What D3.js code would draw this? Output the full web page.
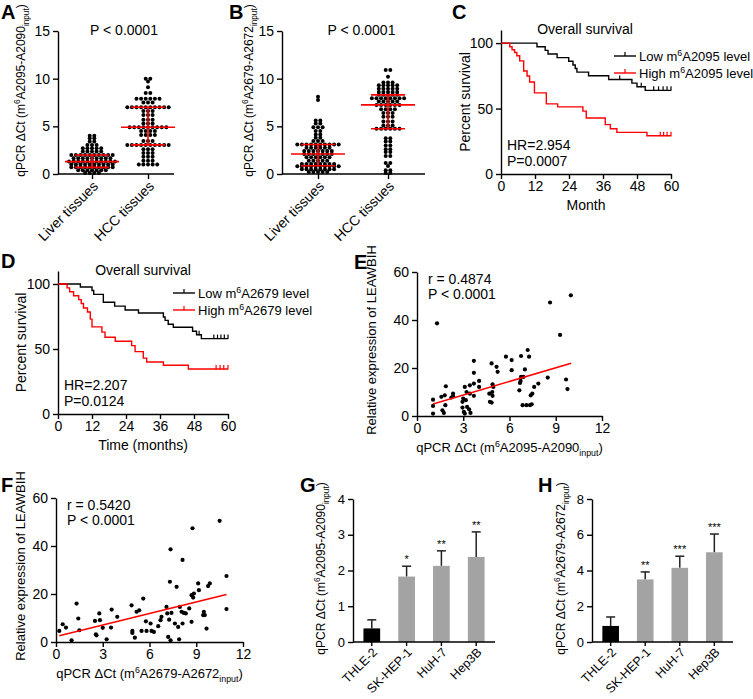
<!DOCTYPE html>
<html><head><meta charset="utf-8">
<script src="https://cdn.jsdelivr.net/npm/d3@7"></script>
<style>body{margin:0;background:#fff}</style>
</head><body><script>
// ================= DATA =================
const scatterCats = ["Liver tissues", "HCC tissues"];
const aLiver = [4.0,4.0,3.75,3.75,3.4,3.4,3.05,3.05,3.05,2.7,2.7,2.7,2.7,2.7,2.35,2.35,2.35,2.35,2.35,
  2.0,2.0,2.0,2.0,2.0,2.0,2.0,2.0,2.0,2.0,1.65,1.65,1.65,1.65,1.65,1.65,1.65,1.65,1.65,
  1.3,1.3,1.3,1.3,1.3,1.3,1.3,1.3,1.3,1.3,1.3,1.0,1.0,1.0,1.0,1.0,1.0,1.0,1.0,1.0,1.0,
  0.7,0.7,0.7,0.7,0.7,0.7,0.7,0.7,0.7,0.7,0.4,0.4,0.4,0.4,0.4,0.4,0.4,0.1,0.1,0.1,0.1];
const aHCC = [10.0,10.0,9.7,9.1,8.5,8.5,7.9,7.9,7.9,7.9,7.9,7.9,7.5,7.5,7.5,
  7.0,7.0,7.0,7.0,7.0,7.0,7.0,7.0,7.0,7.0,6.6,6.6,6.6,6.2,6.2,6.2,5.7,5.7,5.7,5.3,5.3,5.3,
  4.9,4.9,4.9,4.9,4.9,4.9,4.9,4.9,4.9,4.5,4.5,4.5,4.5,4.1,4.1,4.1,4.1,3.45,3.45,3.45,
  3.05,3.05,3.05,3.05,3.05,3.05,3.05,3.05,3.05,3.05,2.6,2.6,2.6,2.2,2.2,2.2,1.8,1.8,1.8,
  1.4,1.4,1.4,1.0,1.0,1.0,1.0,1.0];
const bLiver = [8.1,7.75,5.6,5.6,5.3,5.3,4.9,4.9,4.9,4.5,4.5,4.15,4.15,3.8,3.8,3.45,3.45,3.45,
  3.1,3.1,3.1,3.1,3.1,3.1,3.1,3.1,3.1,3.1,2.75,2.75,2.75,2.75,2.75,2.75,
  2.4,2.4,2.4,2.4,2.4,2.4,2.4,2.1,2.1,2.1,2.1,2.1,2.1,2.1,1.75,1.75,1.75,1.75,1.75,1.75,
  1.4,1.4,1.4,1.4,1.4,1.05,1.05,1.05,1.05,1.05,1.05,1.05,1.05,
  0.8,0.8,0.8,0.8,0.8,0.8,0.8,0.8,0.8,0.8,0.5,0.5,0.5,0.5,0.5,0.5,0.5,0.5,0.2,0.2,0.2,0.2,0.2];
const bHCC = [10.9,10.9,10.2,9.6,9.6,9.6,9.3,9.3,9.3,9.3,9.3,8.95,8.95,8.95,8.95,8.95,
  8.6,8.6,8.6,8.6,8.6,8.3,8.3,8.3,8.3,8.3,7.95,7.95,7.95,7.95,7.95,7.95,7.95,7.95,
  7.6,7.6,7.6,7.6,7.6,7.25,7.25,7.25,7.25,7.25,7.25,6.8,6.8,6.8,6.8,6.4,6.4,6.4,6.0,6.0,6.0,
  5.5,5.5,5.5,5.1,5.1,5.1,4.75,4.75,4.75,4.75,4.75,4.75,3.75,3.75,3.4,3.4,3.0,3.0,2.6,2.6,
  2.3,2.3,1.9,1.9,1.15,1.15,0.85,0.4,0.4,0.1,0.1];
const dotYTicks = [0,5,10,15];
const dotPText = "P < 0.0001";

const monthTicks = [0,12,24,36,48,60];
const survTicks = [0,50,100];
const cLowTime = [0,12.7,15.6,16.6,19.8,23.9,25.4,26.2,26.8,30.9,38.0,46.2,48.0,50.9];
const cLowSurv = [100,97.2,94.4,91.7,88.9,86.1,83.3,80.6,77.8,75.0,72.2,69.4,66.7,63.9];
const cLowCensor = [41.9,49.5,53.9,55.6,57.2,58.6,60];
const cHighTime = [0,3.1,3.9,4.8,5.6,6.6,8.0,9.2,10.1,11.8,16.0,20.0,28.9,30.1,36.8,38.6,40.9,51.5];
const cHighSurv = [100,97.2,94.9,92.8,90.3,86.4,78.7,74.9,70.3,62.0,53.6,51.3,48.0,42.8,37.7,34.6,31.8,29.2];
const cHighCensor = [56.2,57.4,58.6,60];
const dLowTime = [0,7.9,12.0,12.6,16.0,20.0,23.7,28.4,37.2,37.8,38.9,40.7,47.5,48.9,50.6];
const dLowSurv = [100,97.7,95.0,92.0,86.0,83.0,80.0,77.7,74.6,72.0,69.0,66.7,63.6,61.0,58.0];
const dLowCensor = [49.8,55.0,56.3,57.5,58.7,60];
const dHighTime = [0,3.2,4.1,5.5,7.3,8.2,9.0,10.4,11.4,12.0,15.5,16.6,20.2,26.0,27.2,30.1,31.3,37.2,46.0];
const dHighSurv = [100,97.0,94.0,91.0,88.0,85.0,81.5,78.5,73.0,67.0,63.0,59.0,56.0,52.6,48.0,43.0,40.0,37.5,34.6];
const dHighCensor = [55.8,57.2,58.5,60];
const cStats = ["HR=2.954","P=0.0007"];
const dStats = ["HR=2.207","P=0.0124"];

const eX = [1.3,8.63,9.98,9.28,9.67,9.76,8.48,7.87,7.6,7.48,7.38,7.44,7.33,6.9,7.0,7.18,7.27,6.75,6.75,6.72,
  6.68,6.64,7.1,6.85,6.14,6.14,5.77,5.16,5.23,4.84,4.9,4.95,4.88,4.69,4.9,4.84,4.73,3.69,3.69,3.69,
  4.03,4.03,3.69,3.43,3.43,3.21,3.1,3.17,3.25,3.38,3.47,3.04,3.1,2.95,2.95,3.0,2.34,2.34,2.23,1.87,
  1.8,1.84,1.58,1.65,1.74,1.04,1.04,1.04];
const eY = [38.6,47.3,50.3,33.8,15.2,11.2,16.0,13.5,12.1,9.3,8.6,4.9,4.5,16.3,19.4,27.5,24.7,25.0,16.3,14.6,
  13.8,10.7,4.5,4.5,19.1,23.3,24.7,20.5,18.4,21.9,13.2,12.1,10.0,9.3,8.4,5.6,5.9,23.0,18.0,13.5,
  14.6,12.1,8.4,12.8,9.3,10.0,12.1,6.6,3.8,2.8,1.3,1.7,1.0,5.9,3.5,7.3,9.3,8.2,7.7,12.4,
  8.6,4.5,8.0,2.4,1.3,6.8,4.2,1.0];
const eFit = [[1.04,5.0],[10.0,22.0]];
const eStats = ["r = 0.4874","P < 0.0001"];
const fX = [0.21,0.43,0.64,1.0,1.32,1.43,1.5,2.5,2.56,2.6,2.78,2.82,3.0,3.25,3.57,3.53,3.93,4.85,4.9,4.9,
  5.06,5.17,5.34,5.49,5.6,5.77,5.81,6.07,6.13,6.28,6.56,6.71,6.77,7.09,7.14,7.2,7.31,7.35,7.35,7.26,
  7.41,7.63,7.74,7.84,7.9,7.95,8.06,8.12,8.12,8.2,8.33,8.55,8.7,8.7,8.76,8.8,8.85,9.12,9.17,9.49,
  9.44,9.55,9.66,9.76,9.87,10.5,10.94,10.94];
const fY = [4.6,7.4,6.0,0.7,16.0,9.8,4.9,8.8,3.2,2.8,11.9,9.1,5.9,1.1,13.5,6.0,10.5,15.3,4.6,3.8,
  1.8,12.6,13.2,4.6,18.1,8.6,4.6,7.7,4.6,4.2,6.6,9.1,10.5,14.6,11.9,2.1,25.1,38.6,0.7,9.3,
  12.1,7.7,23.0,6.3,1.1,14.6,12.6,34.2,7.7,12.1,11.9,14.0,19.5,8.4,47.4,18.5,20.2,24.4,21.6,12.6,
  11.2,11.2,5.6,23.3,24.4,50.5,27.5,13.7];
const fFit = [[0.21,2.6],[10.94,19.8]];
const fStats = ["r = 0.5420","P < 0.0001"];
const corrXTicks = [0,3,6,9,12];
const corrYTicks = [0,20,40,60];

const cellLines = ["THLE-2","SK-HEP-1","HuH-7","Hep3B"];
const gMean = [0.38,1.83,2.13,2.38];
const gSD = [0.24,0.29,0.42,0.70];
const gStars = ["","*","**","**"];
const gTicks = [0,1,2,3,4];
const hMean = [0.90,3.50,4.15,5.02];
const hSD = [0.50,0.42,0.65,1.02];
const hStars = ["","**","***","***"];
const hTicks = [0,2,4,6,8];

// ================= DRAWING =================
const FONT = "'Liberation Sans', Arial, Helvetica, sans-serif";
const svg = d3.select("body").append("svg").attr("width",753).attr("height",699)
  .attr("font-family",FONT);

function styleAxis(sel, fs){
  sel.attr("font-family",FONT).attr("font-size",fs);
  sel.select(".domain").attr("stroke","#000").attr("stroke-width",1.4);
  sel.selectAll(".tick line").attr("stroke","#000").attr("stroke-width",1.4);
  sel.selectAll(".tick text").attr("fill","#000");
}
function rich(t, segs, fs){
  let shift = 0;
  segs.forEach(s=>{
    const target = s.sup ? -0.4*fs : (s.sub ? 0.3*fs : 0);
    t.append("tspan").attr("dy", target-shift).attr("font-size", (s.sup||s.sub) ? fs*0.68 : fs).text(s.t);
    shift = target;
  });
}
function qpcrSegs(a,b){ return [{t:"qPCR \u0394Ct (m"},{t:"6",sup:true},{t:a+"-"+b},{t:"input",sub:true},{t:")"}]; }
function yTitle(x, y, segs, fs){
  const t = svg.append("text").attr("transform",`translate(${x},${y}) rotate(-90)`)
    .attr("text-anchor","middle").attr("font-size",fs).attr("fill","#000");
  if (typeof segs === "string") t.text(segs); else rich(t, segs, fs);
  return t;
}
function plainText(x,y,str,fs,anchor,weight){
  return svg.append("text").attr("x",x).attr("y",y).attr("font-size",fs).attr("fill","#000")
    .attr("text-anchor",anchor||"start").attr("font-weight",weight||"normal").text(str);
}
function panelLetter(x,y,l){ plainText(x,y,l,20,"start","bold"); }

// ---------- Panels A & B: scatter dot plots ----------
function dotPanel(p, groups, ySegs){
  const y = d3.scaleLinear().domain([0,15]).range([p.y0,p.y1]);
  const x = d3.scalePoint().domain(scatterCats).range([p.cx0,p.cx1]);
  const ya = svg.append("g").attr("transform",`translate(${p.x0},0)`)
    .call(d3.axisLeft(y).tickValues(dotYTicks).tickSize(5).tickSizeOuter(0).tickPadding(3));
  styleAxis(ya,14);
  const xa = svg.append("g").attr("transform",`translate(0,${p.y0})`)
    .call(d3.axisBottom(x).tickSize(5).tickSizeOuter(0).tickFormat(""));
  styleAxis(xa,14);
  xa.select(".domain").remove();
  svg.append("line").attr("x1",p.x0).attr("x2",p.x1).attr("y1",p.y0).attr("y2",p.y0)
    .attr("stroke","#000").attr("stroke-width",1.4);
  scatterCats.forEach(c=>{
    svg.append("text").attr("transform",`translate(${x(c)},${p.y0+6}) rotate(-45)`)
      .attr("dy","0.7em").attr("text-anchor","end").attr("font-size",14).attr("fill","#000").text(c);
  });
  const sp = 4.6;
  groups.forEach((vals,gi)=>{
    const cx = x(scatterCats[gi]);
    const rows = d3.groups(vals, v=>v);
    const pts = [];
    rows.forEach(([v,arr])=>{
      arr.forEach((vv,i)=>pts.push({x: cx + (i-(arr.length-1)/2)*sp, y: y(vv)}));
    });
    svg.append("g").selectAll("circle").data(pts).join("circle")
      .attr("cx",d=>d.x).attr("cy",d=>d.y).attr("r",2.0).attr("fill","#000");
    const s = vals.slice().sort(d3.ascending);
    const q1 = d3.quantileSorted(s,0.25), med = d3.quantileSorted(s,0.5), q3 = d3.quantileSorted(s,0.75);
    const g = svg.append("g").attr("stroke","#ff0000").attr("stroke-width",1.6);
    g.append("line").attr("x1",cx).attr("x2",cx).attr("y1",y(q1)).attr("y2",y(q3));
    g.append("line").attr("x1",cx-27).attr("x2",cx+27).attr("y1",y(med)).attr("y2",y(med));
    [q1,q3].forEach(q=>g.append("line").attr("x1",cx-17).attr("x2",cx+17).attr("y1",y(q)).attr("y2",y(q)));
  });
  plainText((p.x0+p.x1)/2+8, 35, dotPText, 14, "middle");
  yTitle(p.ytx, (p.y0+p.y1)/2 - 12, ySegs, 12);
}
dotPanel({x0:58,x1:174,y0:174,y1:31,cx0:92,cx1:148,ytx:25}, [aLiver,aHCC], qpcrSegs("A2095","A2090"));
dotPanel({x0:282,x1:425,y0:174,y1:31,cx0:318,cx1:388,ytx:253}, [bLiver,bHCC], qpcrSegs("A2679","A2672"));
panelLetter(1,19,"A"); panelLetter(229,19,"B");

// ---------- Panels C & D: survival ----------
function survPanel(p, low, high, stats, legendLabels, xTitle){
  const x = d3.scaleLinear().domain([0,60]).range([p.x0,p.x1]);
  const y = d3.scaleLinear().domain([0,110]).range([p.y0,p.y1]);
  const ya = svg.append("g").attr("transform",`translate(${p.x0},0)`)
    .call(d3.axisLeft(y).tickValues(survTicks).tickSize(5).tickSizeOuter(0).tickPadding(3));
  styleAxis(ya,14);
  const xa = svg.append("g").attr("transform",`translate(0,${p.y0})`)
    .call(d3.axisBottom(x).tickValues(monthTicks).tickSize(5).tickSizeOuter(0).tickPadding(2));
  styleAxis(xa,14);
  [[low,"#000"],[high,"#ff0000"]].forEach(([s,col])=>{
    const pts = s.time.map((t,i)=>[t,s.surv[i]]);
    pts.push([60, s.surv[s.surv.length-1]]);
    svg.append("path").datum(pts).attr("fill","none").attr("stroke",col).attr("stroke-width",1.4)
      .attr("d", d3.line().x(d=>x(d[0])).y(d=>y(d[1])).curve(d3.curveStepAfter));
    const at = t => { let v = s.surv[0]; s.time.forEach((tt,i)=>{ if (tt<=t) v = s.surv[i]; }); return v; };
    svg.append("g").selectAll("line").data(s.censor).join("line")
      .attr("x1",d=>x(d)).attr("x2",d=>x(d)).attr("y1",d=>y(at(d))-4).attr("y2",d=>y(at(d))+0.5)
      .attr("stroke",col).attr("stroke-width",1.2);
  });
  plainText(p.titleX, p.titleY, "Overall survival", 14, "middle");
  legendLabels.forEach((lab,i)=>{
    const ly = p.legY + i*17, col = i===0 ? "#000" : "#ff0000";
    svg.append("line").attr("x1",p.legX).attr("x2",p.legX+22).attr("y1",ly).attr("y2",ly).attr("stroke",col).attr("stroke-width",1.4);
    svg.append("line").attr("x1",p.legX+11).attr("x2",p.legX+11).attr("y1",ly-4).attr("y2",ly).attr("stroke",col).attr("stroke-width",1.2);
    const t = svg.append("text").attr("x",p.legX+25).attr("y",ly+5).attr("font-size",13).attr("fill","#000");
    rich(t, [{t:lab[0]+" m"},{t:"6",sup:true},{t:lab[1]+" level"}], 13);
  });
  plainText(p.x0+6, p.statY, stats[0], 14);
  plainText(p.x0+6, p.statY+16, stats[1], 14);
  plainText((p.x0+p.x1)/2, p.y0+36, xTitle, 14, "middle");
  yTitle(p.ytx, (p.y0+p.y1)/2, "Percent survival", 14);
}
survPanel({x0:501,x1:671,y0:174,y1:30,titleX:585,titleY:34,legX:614,legY:56,statY:150,ytx:470},
  {time:cLowTime,surv:cLowSurv,censor:cLowCensor},{time:cHighTime,surv:cHighSurv,censor:cHighCensor},
  cStats,[["Low","A2095"],["High","A2095"]],"Month");
survPanel({x0:58,x1:228,y0:414,y1:271,titleX:143,titleY:275,legX:173,legY:293,statY:390,ytx:26},
  {time:dLowTime,surv:dLowSurv,censor:dLowCensor},{time:dHighTime,surv:dHighSurv,censor:dHighCensor},
  dStats,[["Low","A2679"],["High","A2679"]],"Time (months)");
panelLetter(452,19,"C"); panelLetter(1,268,"D");

// ---------- Panels E & F: correlation ----------
function corrPanel(p, xs, ys, fit, stats, xSegs){
  const x = d3.scaleLinear().domain([0,12]).range([p.x0,p.x1]);
  const y = d3.scaleLinear().domain([0,60]).range([p.y0,p.y1]);
  const ya = svg.append("g").attr("transform",`translate(${p.x0},0)`)
    .call(d3.axisLeft(y).tickValues(corrYTicks).tickSize(5).tickSizeOuter(0).tickPadding(3));
  styleAxis(ya,14);
  const xa = svg.append("g").attr("transform",`translate(0,${p.y0})`)
    .call(d3.axisBottom(x).tickValues(corrXTicks).tickSize(5).tickSizeOuter(0).tickPadding(2));
  styleAxis(xa,14);
  svg.append("g").selectAll("circle").data(xs.map((v,i)=>[v,ys[i]])).join("circle")
    .attr("cx",d=>x(d[0])).attr("cy",d=>y(d[1])).attr("r",2.1).attr("fill","#000");
  svg.append("line").attr("x1",x(fit[0][0])).attr("y1",y(fit[0][1])).attr("x2",x(fit[1][0])).attr("y2",y(fit[1][1]))
    .attr("stroke","#ff0000").attr("stroke-width",1.6);
  plainText(p.x0+11, p.y1+12, stats[0], 14);
  plainText(p.x0+11, p.y1+27, stats[1], 14);
  const t = svg.append("text").attr("x",(p.x0+p.x1)/2).attr("y",p.y0+36).attr("text-anchor","middle")
    .attr("font-size",13).attr("fill","#000");
  rich(t, xSegs, 13);
  yTitle(p.ytx, (p.y0+p.y1)/2 - 4, "Relative expression of LEAWBIH", 13);
}
corrPanel({x0:417,x1:602,y0:416,y1:272,ytx:376}, eX, eY, eFit, eStats, qpcrSegs("A2095","A2090"));
corrPanel({x0:56,x1:243,y0:642,y1:498,ytx:25}, fX, fY, fFit, fStats, qpcrSegs("A2679","A2672"));
panelLetter(354,269,"E"); panelLetter(1,492,"F");

// ---------- Panels G & H: bars ----------
function barPanel(p, mean, sd, stars, ticks, ymax, ySegs){
  const x = d3.scaleBand().domain(cellLines).range([p.x0,p.x1]).paddingInner(0.52).paddingOuter(0.3);
  const y = d3.scaleLinear().domain([0,ymax]).range([p.y0,p.y1]);
  const ya = svg.append("g").attr("transform",`translate(${p.x0},0)`)
    .call(d3.axisLeft(y).tickValues(ticks).tickFormat(d3.format("d")).tickSize(5).tickSizeOuter(0).tickPadding(3));
  styleAxis(ya,13);
  const xa = svg.append("g").attr("transform",`translate(0,${p.y0})`)
    .call(d3.axisBottom(x).tickSize(4).tickSizeOuter(0).tickFormat(""));
  styleAxis(xa,13);
  xa.select(".domain").remove();
  cellLines.forEach((c,i)=>{
    const cx = x(c) + x.bandwidth()/2;
    const top = y(mean[i]+sd[i]);
    svg.append("line").attr("x1",cx).attr("x2",cx).attr("y1",y(mean[i])).attr("y2",top).attr("stroke","#222").attr("stroke-width",1.5);
    svg.append("line").attr("x1",cx-4.5).attr("x2",cx+4.5).attr("y1",top).attr("y2",top).attr("stroke","#222").attr("stroke-width",1.5);
    svg.append("rect").attr("x",x(c)).attr("y",y(mean[i])).attr("width",x.bandwidth()).attr("height",p.y0-y(mean[i]))
      .attr("fill", i===0 ? "#000" : "#a3a3a3");
    if (stars[i]) plainText(cx, top-3, stars[i], 11, "middle");
    svg.append("text").attr("transform",`translate(${cx},${p.y0+5}) rotate(-45)`)
      .attr("dy","0.7em").attr("text-anchor","end").attr("font-size",12.5).attr("fill","#000").text(c);
  });
  svg.append("line").attr("x1",p.x0).attr("x2",p.x1).attr("y1",p.y0).attr("y2",p.y0).attr("stroke","#000").attr("stroke-width",1.4);
  yTitle(p.ytx, (p.y0+p.y1)/2 - 2, ySegs, 12);
}
barPanel({x0:353,x1:495,y0:642,y1:499,ytx:325}, gMean, gSD, gStars, gTicks, 4, qpcrSegs("A2095","A2090"));
barPanel({x0:592,x1:733,y0:642,y1:499,ytx:565}, hMean, hSD, hStars, hTicks, 8, qpcrSegs("A2679","A2672"));
panelLetter(300,492,"G"); panelLetter(538,492,"H");
</script></body></html>
